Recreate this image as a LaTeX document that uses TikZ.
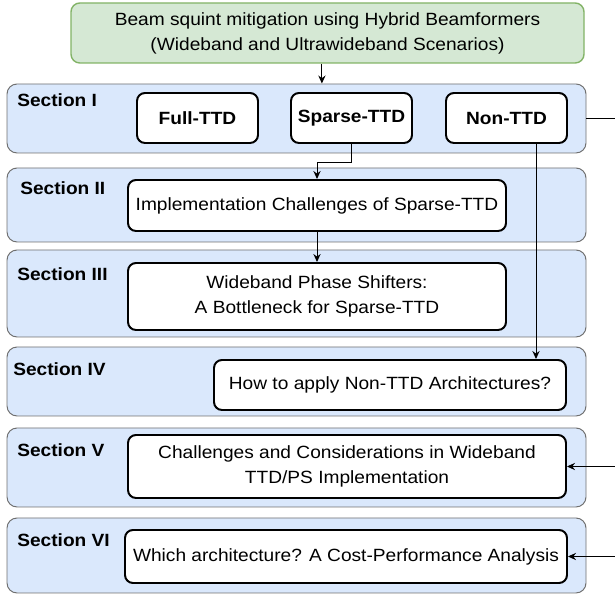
\documentclass[tikz,border=0pt]{standalone}
\usepackage{fontspec}
\setmainfont{Liberation Sans}[FakeStretch=1.08]
\usetikzlibrary{arrows.meta}
\definecolor{titlefill}{HTML}{D5E8D4}
\definecolor{titleline}{HTML}{82B366}
\definecolor{bandfill}{HTML}{DAE8FC}
\definecolor{bandline}{HTML}{707070}
\newcommand{\boxfont}{\fontsize{12.6}{17.8}\selectfont}
\tikzset{
  arr/.style={line width=0.7pt, -{Stealth[length=2mm, width=1.8mm]}},
  band/.style={draw=bandline, line width=0.7pt, fill=bandfill, rounded corners=0.25cm,
    minimum width=14.475cm},
  box/.style={draw, line width=1.4pt, fill=white, rounded corners=0.2cm, align=center,
    inner sep=0pt, font=\boxfont},
  sec/.style={font=\boxfont\bfseries, anchor=base west, inner sep=0pt},
}
\def\xB{7.925}
\def\xS{7.4125}

\begin{document}
\begin{tikzpicture}
\useasboundingbox (0,0) rectangle (15.375,-14.875);
\clip (0,0) rectangle (15.375,-14.875);

\node[draw=titleline, line width=1pt, fill=titlefill, rounded corners=0.22cm, minimum width=12.825cm,
  minimum height=1.5cm, align=center, font=\boxfont] (title) at (8.1875,-0.825)
  {Beam squint mitigation using Hybrid Beamformers\\(Wideband and Ultrawideband Scenarios)};

\node[band, minimum height=1.725cm] (s1) at (\xS,-2.9625) {};
\node[band, minimum height=1.85cm]  (s2) at (\xS,-5.125) {};
\node[band, minimum height=2.175cm] (s3) at (\xS,-7.3375) {};
\node[band, minimum height=1.725cm] (s4) at (\xS,-9.5375) {};
\node[band, minimum height=1.975cm] (s5) at (\xS,-11.6875) {};
\node[band, minimum height=1.875cm] (s6) at (\xS,-13.8875) {};

\node[sec] (l1) at (0.425,-2.675) {Section I};
\node[sec] (l2) at (0.5,-4.875) {Section II};
\node[sec] (l3) at (0.425,-7.025) {Section III};
\node[sec] (l4) at (0.325,-9.4) {Section IV};
\node[sec] (l5) at (0.425,-11.425) {Section V};
\node[sec] (l6) at (0.425,-13.675) {Section VI};

\node[box, minimum width=3.025cm, minimum height=1.25cm, font=\boxfont\bfseries] (full) at (4.9375,-2.95) {Full-TTD};
\node[box, minimum width=3.025cm, minimum height=1.25cm, font=\boxfont\bfseries] (sparse) at (8.7875,-2.95) {Sparse-TTD};
\node[box, minimum width=3.025cm, minimum height=1.25cm, font=\boxfont\bfseries] (non) at (12.6625,-2.95) {Non-TTD};
\node[box, minimum width=9.45cm, minimum height=1.275cm] (b2) at (\xB,-5.1375) {Implementation Challenges of Sparse-TTD};
\node[box, minimum width=9.45cm, minimum height=1.675cm] (b3) at (\xB,-7.4125) {Wideband Phase Shifters:\\A Bottleneck for Sparse-TTD};
\node[box, minimum width=8.8cm, minimum height=1.25cm] (b4) at (9.75,-9.625) {How to apply Non-TTD Architectures?};
\node[box, minimum width=10.95cm, minimum height=1.575cm] (b5) at (8.675,-11.6625) {Challenges and Considerations in Wideband\\TTD/PS Implementation};
\node[box, minimum width=11.05cm, minimum height=1.325cm] (b6) at (8.65,-13.9125) {Which architecture? A Cost-Performance Analysis};

\coordinate (tin) at ([xshift=-0.14cm]title.south);
\draw[arr] (tin) -- (tin |- s1.north);
\draw[arr] (sparse.south) -- ++(0,-0.475) -| (b2.north);
\draw[arr] (b2.south) -- (b3.north);
\coordinate (nout) at ([xshift=0.7375cm]non.south);
\draw[arr] (nout) -- (nout |- b4.north);
\coordinate (bus) at ([xshift=1cm]s1.east);
\draw[line width=0.7pt] (s1.east) -- (bus);
\draw[arr] (bus) |- (b5.east);
\draw[arr] (bus) |- (b6.east);

\end{tikzpicture}
\end{document}
